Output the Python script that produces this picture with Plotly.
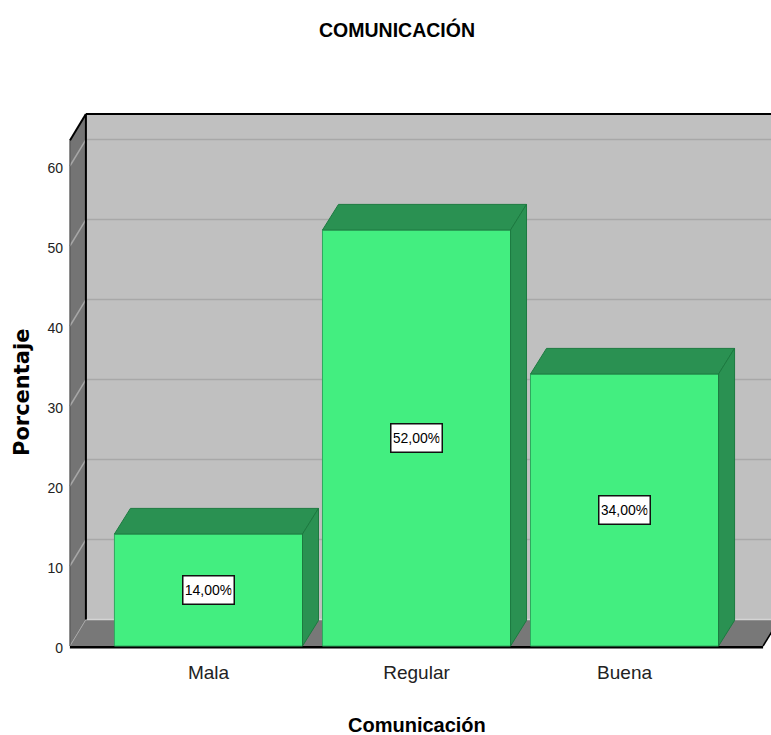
import plotly.graph_objects as go

# Datos del gráfico
categorias = ["Mala", "Regular", "Buena"]
porcentajes = [14, 52, 34]
etiquetas = ["14,00%", "52,00%", "34,00%"]
marcas_y = [0, 10, 20, 30, 40, 50, 60]

FUENTE = "Liberation Sans"
ANCHO_BARRA = 0.904
# Profundidad de la perspectiva en unidades de los ejes
DX = 0.0769
DY = 3.3
DY_BARRA = 3.2
X_MIN, X_MAX = -0.666, 2.666
Y_TECHO = 66.5
RANGO_X = [-0.68, 2.704]
RANGO_Y = [-1, 67]

VERDE = "#43EE80"
VERDE_OSCURO = "#2A9152"
BORDE = "#1C7A40"


def poligono(xs, ys, color, borde=None, ancho=0):
    path = "M " + " L ".join(f"{x},{y}" for x, y in zip(xs, ys)) + " Z"
    return dict(type="path", path=path, xref="x", yref="y", layer="below",
                fillcolor=color, line=dict(color=borde or color, width=ancho))


def linea(x0, y0, x1, y1, color, ancho):
    return dict(type="line", xref="x", yref="y", layer="below", x0=x0, y0=y0, x1=x1, y1=y1,
                line=dict(color=color, width=ancho))


formas = [
    # pared del fondo, pared izquierda y suelo
    poligono([X_MIN + DX, X_MAX + DX, X_MAX + DX, X_MIN + DX], [DY, DY, Y_TECHO, Y_TECHO], "#C0C0C0"),
    poligono([X_MIN, X_MIN + DX, X_MIN + DX, X_MIN], [0, DY, Y_TECHO, Y_TECHO - DY], "#747474"),
    poligono([X_MIN, X_MAX, X_MAX + DX, X_MIN + DX], [0, 0, DY, DY], "#787878"),
]
for v in marcas_y[1:]:
    formas.append(linea(X_MIN, v, X_MIN + DX, v + DY, "#A6A6A6", 1.5))
    formas.append(linea(X_MIN + DX, v + DY, X_MAX + DX, v + DY, "#A8A8A8", 1.5))
formas += [
    linea(X_MIN + DX, DY, X_MAX + DX, DY, "#D4D4D4", 1.5),
    linea(X_MIN, 0, X_MIN + DX, DY, "#A6A6A6", 1),
    linea(X_MIN + DX, DY, X_MIN + DX, Y_TECHO, "#000000", 2),
    linea(X_MIN + DX, Y_TECHO, X_MAX + DX, Y_TECHO, "#000000", 2),
    linea(X_MIN, Y_TECHO - DY, X_MIN + DX, Y_TECHO, "#000000", 2),
    linea(X_MIN, 0, X_MIN, Y_TECHO - DY, "#4A4A4A", 1),
    linea(X_MIN, -0.15, X_MAX, -0.15, "#000000", 2.5),
    linea(X_MAX, 0, X_MAX + DX, DY, "#000000", 1.5),
]

fig = go.Figure()

# Caras frontales
fig.add_trace(go.Bar(
    x=list(range(len(categorias))), y=porcentajes, width=ANCHO_BARRA,
    marker=dict(color=VERDE, line=dict(color="#2FA85E", width=1)),
    showlegend=False, hoverinfo="skip",
))

# Caras superior y lateral de cada barra
for i, v in enumerate(porcentajes):
    izq, der = i - ANCHO_BARRA / 2, i + ANCHO_BARRA / 2
    fig.add_trace(go.Scatter(
        x=[izq, der, der + DX, izq + DX, izq], y=[v, v, v + DY_BARRA, v + DY_BARRA, v],
        mode="lines", fill="toself", fillcolor=VERDE_OSCURO,
        line=dict(color=BORDE, width=1), showlegend=False, hoverinfo="skip",
    ))
    fig.add_trace(go.Scatter(
        x=[der, der + DX, der + DX, der, der], y=[0, DY_BARRA, v + DY_BARRA, v, 0],
        mode="lines", fill="toself", fillcolor=VERDE_OSCURO,
        line=dict(color=BORDE, width=1), showlegend=False, hoverinfo="skip",
    ))

# Etiquetas de porcentaje
anotaciones = [
    dict(x=i, y=v / 2, xref="x", yref="y", text=t, showarrow=False,
         font=dict(family=FUENTE, size=14, color="#000000"),
         bgcolor="#FFFFFF", bordercolor="#111111", borderwidth=1.5, borderpad=2,
         width=46, height=23)
    for i, (v, t) in enumerate(zip(porcentajes, etiquetas))
]

# Títulos de los ejes
anotaciones += [
    dict(x=(417 - 67) / 704, y=0, xref="paper", yref="paper", yshift=-(725 - 654),
         yanchor="middle", xanchor="center", showarrow=False, text="<b>Comunicación</b>",
         font=dict(family=FUENTE, size=20, color="#000000")),
    dict(x=0, y=(654 - 393) / 544, xref="paper", yref="paper", xshift=22 - 67,
         xanchor="center", yanchor="middle", showarrow=False, textangle=-90, text="<b>Porcentaje</b>",
         font=dict(family="DejaVu Sans", size=21, color="#000000")),
]

fig.update_layout(
    width=771, height=735, autosize=False,
    margin=dict(l=67, r=0, t=110, b=81),
    paper_bgcolor="#FFFFFF", plot_bgcolor="#FFFFFF",
    shapes=formas, annotations=anotaciones, barmode="overlay",
    title=dict(text="<b>COMUNICACIÓN</b>", x=397 / 771, xanchor="center",
               y=1 - 30 / 735, yanchor="middle", yref="container",
               font=dict(family=FUENTE, size=19.5, color="#000000")),
    xaxis=dict(
        range=RANGO_X, tickmode="array", tickvals=list(range(len(categorias))),
        ticktext=categorias, showgrid=False, zeroline=False, showline=False, automargin=False,
        ticks="outside", ticklen=1, tickcolor="rgba(0,0,0,0)",
        tickfont=dict(family=FUENTE, size=19, color="#222222"),
    ),
    yaxis=dict(
        range=RANGO_Y, tickmode="array", tickvals=marcas_y, ticktext=[str(v) for v in marcas_y],
        showgrid=False, zeroline=False, showline=False, automargin=False,
        ticks="", ticklabelshift=2, ticklabelstandoff=3,
        tickfont=dict(family=FUENTE, size=14, color="#222222"),
    ),
)

fig.write_html("out.html")
